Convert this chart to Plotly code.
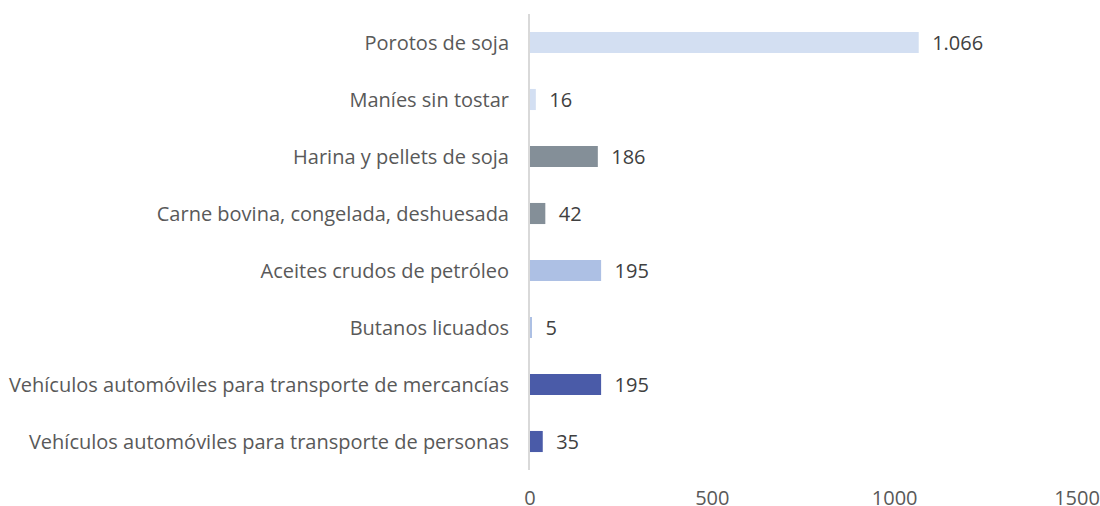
import plotly.graph_objects as go

categories = [
    "Porotos de soja",
    "Maníes sin tostar",
    "Harina y pellets de soja",
    "Carne bovina, congelada, deshuesada",
    "Aceites crudos de petróleo",
    "Butanos licuados",
    "Vehículos automóviles para transporte de mercancías",
    "Vehículos automóviles para transporte de personas",
]
values = [1066, 16, 186, 42, 195, 5, 195, 35]
value_labels = ["1.066", "16", "186", "42", "195", "5", "195", "35"]
colors = ["#d3dff2", "#d3dff2", "#848f98", "#848f98",
          "#adc0e4", "#adc0e4", "#4a5ba8", "#4a5ba8"]
x_ticks = [0, 500, 1000, 1500]

font_family = "Open Sans, Noto Sans, sans-serif"

fig = go.Figure(go.Bar(
    x=values,
    y=categories,
    orientation="h",
    marker=dict(color=colors, line=dict(width=0)),
    width=0.37,
    text=["  " + t for t in value_labels],
    textposition="outside",
    constraintext="none",
    cliponaxis=False,
    textangle=0,
    textfont=dict(family=font_family, size=20, color="#404040"),
))

fig.update_layout(
    width=1100,
    height=506,
    margin=dict(l=530, r=22.5, t=14, b=36),
    paper_bgcolor="white",
    plot_bgcolor="white",
    showlegend=False,
    font=dict(family=font_family, size=20, color="#595959"),
)

fig.update_xaxes(
    range=[0, 1500],
    tickvals=x_ticks,
    ticktext=[str(t) for t in x_ticks],
    showgrid=False,
    zeroline=False,
    showline=False,
    ticks="",
    ticklabelstandoff=14,
    ticklabeloverflow="allow",
    automargin=False,
    tickfont=dict(size=20, color="#595959"),
)
fig.update_yaxes(
    categoryorder="array",
    categoryarray=categories[::-1],
    showgrid=False,
    zeroline=False,
    showline=True,
    linecolor="#d9d9d9",
    linewidth=2,
    ticks="",
    ticklabelstandoff=15,
    automargin=False,
    tickfont=dict(size=20, color="#595959"),
)

fig.write_html(
    "out.html",
    config={"displayModeBar": False},
    post_script="document.body.style.margin='0';document.body.style.overflow='hidden';",
)
